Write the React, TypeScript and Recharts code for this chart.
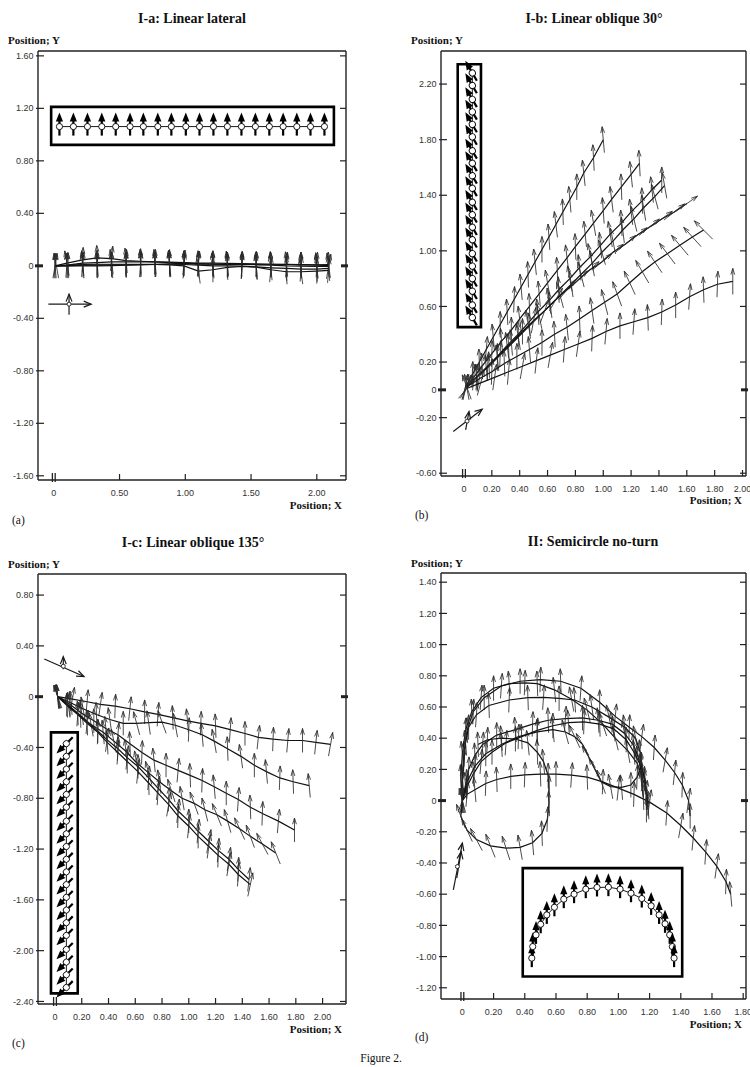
import React from 'react';
import { ScatterChart, Scatter, XAxis, YAxis, ReferenceArea } from 'recharts';

type Row = [number, number, number]; // x, y, heading (deg)
type Cue = { from: [number, number]; to: [number, number]; h: number };

// ---------- I-a: Linear lateral ----------
const A_X_TICKS = [0, 0.5, 1.0, 1.5, 2.0];
const A_Y_TICKS = [-1.6, -1.2, -0.8, -0.4, 0, 0.4, 0.8, 1.2, 1.6];
const A_TRACK_1: Row[] = [[0.01,0.0,95],[0.10,0.02,100],[0.22,0.045,88],[0.33,0.06,92],[0.44,0.055,85],[0.55,0.04,95],[0.66,0.035,90],[0.77,0.03,88],[0.88,0.025,93],[0.99,0.02,90],[1.10,0.015,87],[1.21,0.012,92],[1.32,0.01,90],[1.43,0.01,88],[1.54,0.008,93],[1.65,0.005,90],[1.77,0.0,88],[1.88,-0.002,92],[2.00,-0.005,95],[2.09,-0.005,80]];
const A_TRACK_2: Row[] = [[0.01,0.0,80],[0.10,0.005,85],[0.22,0.02,95],[0.33,0.025,90],[0.44,0.03,97],[0.55,0.03,88],[0.66,0.03,92],[0.77,0.03,95],[0.88,0.028,90],[0.99,0.025,85],[1.10,0.02,92],[1.21,0.02,90],[1.32,0.018,95],[1.43,0.017,88],[1.54,0.015,90],[1.65,0.012,92],[1.77,0.01,86],[1.88,0.008,90],[2.00,0.005,95],[2.09,0.002,98]];
const A_TRACK_3: Row[] = [[0.02,0.0,100],[0.11,0.005,92],[0.22,0.01,85],[0.33,0.012,95],[0.44,0.012,90],[0.55,0.012,88],[0.66,0.012,93],[0.77,0.01,90],[0.88,0.008,95],[0.99,0.0,86],[1.10,-0.04,98],[1.21,-0.03,90],[1.32,-0.012,92],[1.43,-0.005,88],[1.54,-0.01,95],[1.65,-0.03,85],[1.77,-0.045,92],[1.88,-0.045,98],[2.00,-0.04,90],[2.09,-0.035,85]];
const A_TRACK_4: Row[] = [[0.01,0.0,90],[0.10,0.0,95],[0.22,0.005,92],[0.33,0.005,88],[0.44,0.008,90],[0.55,0.008,92],[0.66,0.01,86],[0.77,0.012,94],[0.88,0.012,90],[0.99,0.01,88],[1.10,0.005,92],[1.21,0.0,95],[1.32,0.0,90],[1.43,-0.003,87],[1.54,-0.008,92],[1.65,-0.015,96],[1.77,-0.02,90],[1.88,-0.025,86],[2.00,-0.025,92],[2.09,-0.02,95]];
const A_TRACK_5: Row[] = [[0.01,0.0,85],[0.10,0.002,90],[0.22,0.0,96],[0.33,0.0,92],[0.44,0.002,95],[0.55,0.005,90],[0.66,0.008,88],[0.77,0.01,92],[0.88,0.015,96],[0.99,0.018,90],[1.10,0.015,85],[1.21,0.012,90],[1.32,0.01,93],[1.43,0.01,90],[1.54,0.01,88],[1.65,0.012,92],[1.77,0.012,95],[1.88,0.01,90],[2.00,0.008,87],[2.09,0.01,92]];
const A_MODEL: Row[] = [[0.043,1.061,90],[0.149,1.061,90],[0.256,1.061,90],[0.365,1.061,90],[0.471,1.061,90],[0.580,1.061,90],[0.681,1.061,90],[0.791,1.061,90],[0.894,1.061,90],[1.004,1.061,90],[1.108,1.061,90],[1.214,1.061,90],[1.320,1.061,90],[1.427,1.061,90],[1.533,1.061,90],[1.639,1.061,90],[1.744,1.061,90],[1.848,1.061,90],[1.952,1.061,90],[2.058,1.061,90]];
const A_MODEL_BOX = [-0.02, 2.13, 0.922, 1.211];
const A_CUES: Cue[] = [
  { from: [-0.041, -0.292], to: [0.284, -0.292], h: 0 },
  { from: [0.116, -0.373], to: [0.116, -0.216], h: 90 },
];
const A_CUE_DOT: [number, number] = [0.116, -0.292];

// ---------- I-b: Linear oblique 30° ----------
const B_X_TICKS = [0, 0.2, 0.4, 0.6, 0.8, 1.0, 1.2, 1.4, 1.6, 1.8, 2.0];
const B_Y_TICKS = [-0.6, -0.2, 0, 0.2, 0.6, 1.0, 1.4, 1.8, 2.2];
const B_TRACK_1: Row[] = [[0.01,0.02,80],[0.06,0.11,88],[0.11,0.20,92],[0.16,0.29,85],[0.21,0.38,95],[0.26,0.47,90],[0.31,0.56,93],[0.36,0.65,88],[0.41,0.74,95],[0.46,0.83,92],[0.51,0.92,96],[0.56,1.01,90],[0.61,1.10,94],[0.66,1.19,97],[0.71,1.28,92],[0.76,1.37,95],[0.81,1.46,90],[0.86,1.56,96],[0.93,1.67,93],[1.00,1.80,95]];
const B_TRACK_2: Row[] = [[0.01,0.02,75],[0.07,0.09,85],[0.13,0.17,92],[0.20,0.26,88],[0.27,0.35,95],[0.34,0.43,90],[0.40,0.51,97],[0.47,0.60,92],[0.54,0.69,95],[0.60,0.77,100],[0.67,0.86,93],[0.74,0.95,97],[0.80,1.03,92],[0.87,1.12,96],[0.93,1.20,100],[1.00,1.29,94],[1.06,1.37,97],[1.13,1.46,92],[1.20,1.55,96],[1.26,1.63,93]];
const B_TRACK_3: Row[] = [[0.02,0.02,70],[0.09,0.09,88],[0.16,0.16,95],[0.24,0.24,90],[0.31,0.32,97],[0.39,0.40,92],[0.46,0.48,100],[0.53,0.56,95],[0.61,0.64,98],[0.68,0.72,92],[0.76,0.80,100],[0.83,0.88,96],[0.91,0.96,102],[0.98,1.04,95],[1.05,1.12,99],[1.13,1.20,93],[1.20,1.28,97],[1.28,1.36,92],[1.35,1.44,96],[1.42,1.51,90]];
const B_TRACK_4: Row[] = [[0.02,0.02,110],[0.09,0.09,95],[0.17,0.16,88],[0.24,0.23,96],[0.32,0.31,92],[0.39,0.38,99],[0.47,0.46,94],[0.54,0.53,102],[0.62,0.61,97],[0.69,0.68,105],[0.77,0.76,98],[0.84,0.83,104],[0.92,0.91,100],[0.99,0.99,106],[1.07,1.07,101],[1.14,1.15,97],[1.22,1.23,103],[1.29,1.31,99],[1.37,1.39,105],[1.44,1.47,100]];
const B_TRACK_5: Row[] = [[0.02,0.02,60],[0.10,0.10,85],[0.18,0.18,92],[0.26,0.26,88],[0.34,0.34,95],[0.42,0.42,90],[0.50,0.50,80],[0.58,0.57,70],[0.66,0.65,60],[0.74,0.72,50],[0.82,0.79,45],[0.90,0.86,42],[0.99,0.92,40],[1.07,0.99,38],[1.16,1.05,40],[1.24,1.11,37],[1.33,1.17,39],[1.42,1.23,36],[1.51,1.28,38],[1.60,1.34,35]];
const B_TRACK_6: Row[] = [[0.02,0.02,100],[0.11,0.08,80],[0.20,0.13,88],[0.29,0.19,92],[0.38,0.24,90],[0.47,0.29,95],[0.56,0.34,90],[0.65,0.40,93],[0.74,0.45,96],[0.83,0.51,92],[0.92,0.57,98],[1.01,0.63,104],[1.10,0.69,110],[1.19,0.77,115],[1.28,0.85,120],[1.37,0.92,124],[1.46,0.98,127],[1.55,1.04,130],[1.64,1.10,132],[1.72,1.15,135]];
const B_TRACK_7: Row[] = [[0.02,0.01,50],[0.12,0.05,75],[0.22,0.09,82],[0.32,0.13,85],[0.42,0.17,80],[0.52,0.21,84],[0.62,0.25,80],[0.72,0.29,86],[0.82,0.33,82],[0.92,0.37,88],[1.02,0.42,85],[1.12,0.46,90],[1.22,0.49,86],[1.32,0.52,92],[1.42,0.56,88],[1.52,0.61,90],[1.62,0.67,86],[1.72,0.72,92],[1.82,0.76,88],[1.93,0.78,90]];
const B_MODEL: Row[] = [[0.06,2.28,120],[0.06,2.19,120],[0.06,2.09,120],[0.06,2.00,120],[0.06,1.91,120],[0.06,1.82,120],[0.06,1.72,120],[0.06,1.63,120],[0.06,1.54,120],[0.06,1.45,120],[0.06,1.35,120],[0.06,1.26,120],[0.06,1.17,120],[0.06,1.08,120],[0.06,0.98,120],[0.06,0.89,120],[0.06,0.80,120],[0.06,0.71,120],[0.06,0.61,120],[0.06,0.52,120]];
const B_MODEL_BOX = [-0.045, 0.122, 0.451, 2.343];
const B_CUES: Cue[] = [
  { from: [-0.077, -0.30], to: [0.131, -0.139], h: 38 },
  { from: [0.012, -0.288], to: [0.036, -0.156], h: 80 },
];
const B_CUE_DOT: [number, number] = [0.022, -0.225];

// ---------- I-c: Linear oblique 135° ----------
const C_X_TICKS = [0, 0.2, 0.4, 0.6, 0.8, 1.0, 1.2, 1.4, 1.6, 1.8, 2.0];
const C_Y_TICKS = [-2.4, -2.0, -1.6, -1.2, -0.8, -0.4, 0, 0.4, 0.8];
const C_TRACK_1: Row[] = [[0.02,0.00,95],[0.13,-0.02,80],[0.24,-0.04,85],[0.34,-0.06,82],[0.45,-0.075,88],[0.56,-0.095,84],[0.67,-0.12,90],[0.77,-0.14,86],[0.88,-0.165,92],[0.99,-0.19,95],[1.09,-0.21,88],[1.20,-0.23,92],[1.31,-0.26,86],[1.42,-0.29,90],[1.52,-0.32,84],[1.63,-0.335,88],[1.74,-0.345,85],[1.85,-0.345,90],[1.95,-0.36,84],[2.06,-0.375,80]];
const C_TRACK_2: Row[] = [[0.02,0.0,110],[0.12,-0.05,95],[0.21,-0.095,100],[0.31,-0.14,92],[0.41,-0.18,98],[0.51,-0.21,90],[0.61,-0.21,105],[0.70,-0.205,98],[0.80,-0.20,110],[0.90,-0.225,100],[1.00,-0.26,88],[1.10,-0.30,95],[1.19,-0.35,100],[1.29,-0.41,92],[1.39,-0.47,98],[1.49,-0.54,90],[1.58,-0.59,95],[1.68,-0.64,88],[1.78,-0.67,92],[1.90,-0.70,95]];
const C_TRACK_3: Row[] = [[0.02,0.0,100],[0.11,-0.06,92],[0.20,-0.13,98],[0.29,-0.19,90],[0.38,-0.25,95],[0.47,-0.30,85],[0.56,-0.37,92],[0.65,-0.44,88],[0.74,-0.50,96],[0.83,-0.54,90],[0.92,-0.58,85],[1.01,-0.62,92],[1.10,-0.66,88],[1.19,-0.71,95],[1.28,-0.76,90],[1.37,-0.81,86],[1.46,-0.87,92],[1.55,-0.92,88],[1.67,-0.98,85],[1.79,-1.05,90]];
const C_TRACK_4: Row[] = [[0.02,0.0,105],[0.10,-0.07,98],[0.19,-0.15,92],[0.27,-0.22,100],[0.36,-0.28,95],[0.44,-0.35,102],[0.53,-0.43,96],[0.61,-0.52,100],[0.70,-0.60,105],[0.78,-0.67,98],[0.87,-0.74,108],[0.95,-0.80,100],[1.04,-0.84,110],[1.12,-0.89,104],[1.21,-0.93,112],[1.29,-0.98,106],[1.38,-1.04,115],[1.46,-1.10,110],[1.55,-1.16,118],[1.65,-1.23,112]];
const C_TRACK_5: Row[] = [[0.02,0.0,95],[0.09,-0.06,88],[0.17,-0.13,92],[0.24,-0.20,85],[0.32,-0.27,90],[0.39,-0.34,82],[0.47,-0.41,88],[0.54,-0.48,84],[0.62,-0.55,90],[0.70,-0.64,86],[0.77,-0.72,82],[0.85,-0.81,88],[0.92,-0.90,84],[1.00,-0.98,90],[1.07,-1.06,85],[1.15,-1.14,80],[1.22,-1.21,86],[1.30,-1.28,82],[1.37,-1.36,88],[1.45,-1.44,84]];
const C_TRACK_6: Row[] = [[0.02,0.0,100],[0.09,-0.07,92],[0.17,-0.14,86],[0.24,-0.21,92],[0.32,-0.28,88],[0.39,-0.36,94],[0.47,-0.44,86],[0.54,-0.51,90],[0.62,-0.59,84],[0.70,-0.68,92],[0.77,-0.76,86],[0.85,-0.85,80],[0.92,-0.94,88],[1.00,-1.02,84],[1.07,-1.10,90],[1.15,-1.18,82],[1.22,-1.25,88],[1.30,-1.32,80],[1.37,-1.40,86],[1.46,-1.48,78]];
const C_MODEL: Row[] = [[0.085,-0.37,225],[0.085,-0.47,225],[0.085,-0.57,225],[0.085,-0.67,225],[0.085,-0.77,225],[0.085,-0.87,225],[0.085,-0.98,225],[0.085,-1.08,225],[0.085,-1.18,225],[0.085,-1.28,225],[0.085,-1.38,225],[0.085,-1.48,225],[0.085,-1.58,225],[0.085,-1.68,225],[0.085,-1.78,225],[0.085,-1.88,225],[0.085,-1.99,225],[0.085,-2.09,225],[0.085,-2.19,225],[0.085,-2.29,225]];
const C_MODEL_BOX = [-0.03, 0.17, -2.336, -0.281];
const C_CUES: Cue[] = [
  { from: [-0.08, 0.297], to: [0.217, 0.159], h: 336 },
  { from: [0.062, 0.215], to: [0.062, 0.315], h: 90 },
];
const C_CUE_DOT: [number, number] = [0.062, 0.24];

// ---------- II: Semicircle no-turn ----------
const D_X_TICKS = [0, 0.2, 0.4, 0.6, 0.8, 1.0, 1.2, 1.4, 1.6, 1.8];
const D_Y_TICKS = [-1.2, -1.0, -0.8, -0.6, -0.4, -0.2, 0, 0.2, 0.4, 0.6, 0.8, 1.0, 1.2, 1.4];
const D_TRACK_1: Row[] = [[0.0,0.0,70],[0.03,0.04,85],[0.08,0.07,95],[0.15,0.11,88],[0.22,0.135,92],[0.31,0.155,90],[0.40,0.165,88],[0.50,0.17,92],[0.60,0.17,90],[0.70,0.163,86],[0.80,0.15,92],[0.90,0.12,88],[1.00,0.08,84],[1.10,0.04,88],[1.20,-0.01,82],[1.31,-0.08,86],[1.40,-0.16,80],[1.48,-0.24,84],[1.56,-0.33,86],[1.63,-0.42,82],[1.69,-0.52,88],[1.72,-0.60,95]];
const D_TRACK_2: Row[] = [[0.0,0.0,100],[0.0,0.15,95],[0.01,0.30,90],[0.03,0.45,92],[0.07,0.57,88],[0.14,0.66,90],[0.25,0.735,86],[0.37,0.765,90],[0.50,0.775,88],[0.63,0.765,92],[0.76,0.72,86],[0.88,0.63,90],[0.98,0.54,84],[1.07,0.47,88],[1.15,0.41,82],[1.23,0.34,86],[1.30,0.26,80],[1.36,0.18,84],[1.41,0.10,88],[1.45,0.0,82],[1.46,-0.10,90]];
const D_TRACK_3: Row[] = [[0.0,0.0,95],[-0.01,0.15,92],[0.0,0.30,96],[0.02,0.45,88],[0.06,0.57,92],[0.12,0.66,86],[0.20,0.72,90],[0.30,0.75,94],[0.40,0.755,88],[0.48,0.75,92],[0.59,0.71,96],[0.70,0.65,100],[0.80,0.58,104],[0.90,0.49,108],[0.98,0.40,104],[1.06,0.32,100],[1.12,0.24,96],[1.15,0.16,92],[1.18,0.06,98],[1.19,-0.04,94]];
const D_TRACK_4: Row[] = [[0.0,0.0,85],[0.0,0.12,92],[0.01,0.25,88],[0.02,0.37,95],[0.04,0.47,90],[0.09,0.55,86],[0.17,0.61,92],[0.30,0.645,88],[0.42,0.66,92],[0.52,0.662,86],[0.62,0.655,90],[0.72,0.645,94],[0.83,0.60,98],[0.94,0.535,102],[1.04,0.47,96],[1.11,0.40,100],[1.14,0.31,94],[1.15,0.22,98],[1.17,0.12,92],[1.18,0.02,96],[1.18,-0.06,90]];
const D_TRACK_5: Row[] = [[0.0,0.0,90],[0.02,0.10,95],[0.04,0.20,88],[0.08,0.29,92],[0.13,0.36,86],[0.22,0.42,90],[0.34,0.455,94],[0.45,0.49,88],[0.55,0.515,92],[0.66,0.525,86],[0.77,0.53,90],[0.87,0.515,94],[0.96,0.49,98],[1.04,0.43,102],[1.10,0.35,96],[1.13,0.27,100],[1.15,0.18,94],[1.15,0.10,98],[1.16,0.02,92]];
const D_TRACK_6: Row[] = [[0.0,0.0,80],[0.03,0.09,88],[0.07,0.17,92],[0.12,0.25,85],[0.19,0.31,90],[0.28,0.37,86],[0.38,0.41,92],[0.48,0.45,88],[0.58,0.48,90],[0.68,0.50,94],[0.78,0.505,88],[0.88,0.49,92],[0.97,0.46,96],[1.05,0.39,90],[1.10,0.31,94],[1.14,0.23,88],[1.17,0.14,92],[1.18,0.05,86],[1.19,-0.02,90]];
const D_TRACK_7: Row[] = [[0.0,0.0,105],[-0.01,-0.10,110],[0.03,-0.19,115],[0.09,-0.25,118],[0.18,-0.29,112],[0.28,-0.305,108],[0.37,-0.30,100],[0.45,-0.27,95],[0.51,-0.21,92],[0.545,-0.12,88],[0.555,-0.02,92],[0.555,0.08,88],[0.55,0.16,90],[0.52,0.25,95],[0.48,0.31,92],[0.42,0.37,96],[0.34,0.395,90],[0.25,0.40,94],[0.16,0.39,88],[0.10,0.36,92]];
const D_TRACK_8: Row[] = [[0.0,0.0,88],[0.03,0.12,92],[0.08,0.22,86],[0.15,0.30,90],[0.25,0.36,94],[0.36,0.41,88],[0.48,0.44,92],[0.58,0.455,96],[0.66,0.44,105],[0.72,0.41,115],[0.77,0.36,120],[0.81,0.28,122],[0.85,0.20,118],[0.89,0.12,110],[0.95,0.09,100],[1.02,0.085,95],[1.08,0.10,90],[1.12,0.15,88],[1.15,0.23,92]];
const D_MODEL: Row[] = [[0.445,-1.010,90],[0.451,-0.936,90],[0.472,-0.861,90],[0.502,-0.793,90],[0.541,-0.733,90],[0.590,-0.684,90],[0.650,-0.632,90],[0.716,-0.600,90],[0.791,-0.568,90],[0.863,-0.557,90],[0.936,-0.555,90],[1.011,-0.568,90],[1.081,-0.594,90],[1.150,-0.628,90],[1.210,-0.675,90],[1.261,-0.733,90],[1.299,-0.790,90],[1.329,-0.861,90],[1.346,-0.936,90],[1.357,-1.010,90]];
const D_MODEL_BOX = [0.387, 1.409, -1.128, -0.433];
const D_CUES: Cue[] = [
  { from: [-0.058, -0.572], to: [0.0, -0.273], h: 79 },
  { from: [-0.036, -0.497], to: [-0.008, -0.327], h: 81 },
];
const D_CUE_DOT: [number, number] = [-0.032, -0.423];

// ---------- drawing helpers ----------
const INK = '#1a1a1a';
const AXIS_LINE = { stroke: '#222', strokeWidth: 1.4 };
const TRACK_LINE = { stroke: '#111', strokeWidth: 1.2 };
const MODEL_LINE = { stroke: '#000', strokeWidth: 0.9 };
const TICK_FONT = "'Liberation Sans', Arial, sans-serif";
const SERIF = "'Liberation Serif', 'Times New Roman', serif";

const pts = (rows: Row[]) => rows.map(([x, y, h]) => ({ x, y, h }));
const cueData = (c: Cue) => [
  { x: c.from[0], y: c.from[1], h: null },
  { x: c.to[0], y: c.to[1], h: c.h },
];
const fmt = (v: number) => (v === 0 ? '0' : v.toFixed(2));

function headPath(hx: number, hy: number, a: number, hl: number, sp: number) {
  const bx = -Math.cos(a);
  const by = Math.sin(a);
  const r = (t: number) => [hx + hl * (bx * Math.cos(t) - by * Math.sin(t)), hy + hl * (bx * Math.sin(t) + by * Math.cos(t))];
  const [l1x, l1y] = r(sp);
  const [l2x, l2y] = r(-sp);
  return `M${l1x},${l1y}L${hx},${hy}L${l2x},${l2y}`;
}

// thin open arrow centred on a trajectory sample, pointing along the heading
const quiver = (len: number) => (p: any) => {
  const { cx, cy, payload } = p;
  if (cx == null || cy == null || payload == null) return <g />;
  const a = (payload.h * Math.PI) / 180;
  const ux = Math.cos(a);
  const uy = -Math.sin(a);
  const tx = cx - (ux * len) / 2;
  const ty = cy - (uy * len) / 2;
  const hx = cx + (ux * len) / 2;
  const hy = cy + (uy * len) / 2;
  return (
    <path
      d={`M${tx},${ty}L${hx},${hy}` + headPath(hx, hy, a, 6.5, 0.3)}
      stroke="#2c2c2c"
      strokeWidth={0.85}
      fill="none"
    />
  );
};

// filled agent glyph used in the model boxes
const modelGlyph = (p: any) => {
  const { cx, cy, payload } = p;
  if (cx == null || cy == null || payload == null) return <g />;
  const rot = 90 - payload.h;
  return (
    <g transform={`rotate(${rot} ${cx} ${cy})`}>
      <line x1={cx} y1={cy + 9} x2={cx} y2={cy - 7} stroke="#000" strokeWidth={2.2} />
      <path d={`M${cx},${cy - 14}L${cx - 3.6},${cy - 5}L${cx + 3.6},${cy - 5}Z`} fill="#000" />
      <circle cx={cx} cy={cy} r={3.1} fill="#fff" stroke="#000" strokeWidth={0.9} />
    </g>
  );
};

// cue arrow: head only on the end sample
const cueHead = (p: any) => {
  const { cx, cy, payload } = p;
  if (cx == null || cy == null || payload == null || payload.h == null) return <g />;
  const a = (payload.h * Math.PI) / 180;
  return <path d={headPath(cx, cy, a, 8, 0.38)} stroke={INK} strokeWidth={1.2} fill="none" />;
};
const cueDot = (p: any) => {
  const { cx, cy } = p;
  if (cx == null || cy == null) return <g />;
  return <circle cx={cx} cy={cy} r={2} fill="#fff" stroke={INK} strokeWidth={0.9} />;
};

// ---------- axis ticks (all drawn inside the frame) ----------
const LeftTick = (p: any) => {
  const { x, y, payload } = p;
  const zero = payload.value === 0;
  return (
    <g>
      <line x1={zero ? x - 3 : x - 2} x2={zero ? x + 5 : x + 6} y1={y} y2={y} stroke="#222" strokeWidth={zero ? 3 : 1.2} />
      <text x={x - 4.5} y={y} dy="0.35em" textAnchor="end" fontSize={9} fill="#333" fontFamily={TICK_FONT}>
        {fmt(payload.value)}
      </text>
    </g>
  );
};
const RightTick = (p: any) => {
  const { x, y, payload } = p;
  const zero = payload.value === 0;
  return <line x1={zero ? x - 5 : x - 6} x2={zero ? x + 2 : x} y1={y} y2={y} stroke="#222" strokeWidth={zero ? 3 : 1.2} />;
};
const TopTick = (p: any) => {
  const { x, y, payload } = p;
  if (payload.value === 0) {
    return (
      <g stroke="#222" strokeWidth={1.3}>
        <line x1={x - 1.4} x2={x - 1.4} y1={y - 2} y2={y + 7} />
        <line x1={x + 1.4} x2={x + 1.4} y1={y - 2} y2={y + 7} />
      </g>
    );
  }
  return <line x1={x} x2={x} y1={y} y2={y + 6} stroke="#222" strokeWidth={1.2} />;
};
const BottomTick = (p: any) => {
  const { x, y, payload } = p;
  const zero = payload.value === 0;
  return (
    <g>
      {zero ? (
        <g stroke="#222" strokeWidth={1.3}>
          <line x1={x - 1.4} x2={x - 1.4} y1={y + 2} y2={y - 7} />
          <line x1={x + 1.4} x2={x + 1.4} y1={y + 2} y2={y - 7} />
        </g>
      ) : (
        <line x1={x} x2={x} y1={y} y2={y - 6} stroke="#222" strokeWidth={1.2} />
      )}
      <text x={x} y={y + 12.5} dy="0.35em" textAnchor="middle" fontSize={9} fill="#333" fontFamily={TICK_FONT}>
        {fmt(payload.value)}
      </text>
    </g>
  );
};

function frame(xd: number[], yd: number[], xt: number[], yt: number[], yw: number) {
  return [
    <XAxis key="xb" type="number" dataKey="x" domain={xd} ticks={xt} allowDataOverflow interval={0} height={20} tickLine={false} tickSize={0} tickMargin={0} axisLine={AXIS_LINE} tick={BottomTick} />,
    <XAxis key="xt" xAxisId="top" orientation="top" type="number" domain={xd} ticks={xt} allowDataOverflow interval={0} height={1} tickLine={false} tickSize={0} tickMargin={0} axisLine={AXIS_LINE} tick={TopTick} />,
    <YAxis key="yl" type="number" dataKey="y" domain={yd} ticks={yt} allowDataOverflow interval={0} width={yw} tickLine={false} tickSize={0} tickMargin={0} axisLine={AXIS_LINE} tick={LeftTick} />,
    <YAxis key="yr" yAxisId="right" orientation="right" type="number" domain={yd} ticks={yt} allowDataOverflow interval={0} width={1} tickLine={false} tickSize={0} tickMargin={0} axisLine={AXIS_LINE} tick={RightTick} />,
    <Scatter key="anchor" xAxisId="top" yAxisId="right" data={[]} isAnimationActive={false} />,
  ];
}

function tracks(list: Row[][], len: number) {
  return list.map((t, i) => (
    <Scatter key={`t${i}`} data={pts(t)} line={TRACK_LINE} lineJointType="linear" shape={quiver(len)} isAnimationActive={false} />
  ));
}

function model(rows: Row[], box: number[]) {
  return [
    <ReferenceArea key="box" x1={box[0]} x2={box[1]} y1={box[2]} y2={box[3]} fill="none" stroke="#000" strokeWidth={2.6} ifOverflow="visible" />,
    <Scatter key="model" data={pts(rows)} line={MODEL_LINE} lineJointType="linear" shape={modelGlyph} isAnimationActive={false} />,
  ];
}

function cues(list: Cue[], dot: [number, number]) {
  return [
    ...list.map((c, i) => (
      <Scatter key={`c${i}`} data={cueData(c)} line={{ stroke: INK, strokeWidth: 1.2 }} lineJointType="linear" shape={cueHead} isAnimationActive={false} />
    )),
    <Scatter key="cdot" data={[{ x: dot[0], y: dot[1] }]} shape={cueDot} isAnimationActive={false} />,
  ];
}

const Txt = ({ x, y, anchor = 'start', style, children }: any) => (
  <div
    style={{
      position: 'absolute',
      left: x,
      top: y,
      transform: `translate(${anchor === 'middle' ? '-50%' : anchor === 'end' ? '-100%' : '0'}, -50%)`,
      whiteSpace: 'nowrap',
      lineHeight: 1,
      color: '#111',
      fontFamily: SERIF,
      ...style,
    }}
  >
    {children}
  </div>
);

const TITLE = { fontSize: 14, fontWeight: 700 };
const AXT = { fontSize: 11, fontWeight: 700 };
const TAG = { fontSize: 11.5 };

export default function App() {
  return (
    <div style={{ position: 'absolute', left: 0, top: 0, width: 750, height: 1067, background: '#fff', overflow: 'hidden' }}>
      {/* I-a */}
      <div style={{ position: 'absolute', left: 0, top: 0 }}>
        <ScatterChart width={375} height={530} margin={{ top: 50, right: 28, bottom: 30, left: 0 }}>
          {frame([-0.12, 2.222], [-1.632, 1.637], A_X_TICKS, A_Y_TICKS, 38)}
          {model(A_MODEL, A_MODEL_BOX)}
          {tracks([A_TRACK_1, A_TRACK_2, A_TRACK_3, A_TRACK_4, A_TRACK_5], 25)}
          {cues(A_CUES, A_CUE_DOT)}
        </ScatterChart>
      </div>
      {/* I-b */}
      <div style={{ position: 'absolute', left: 375, top: 0 }}>
        <ScatterChart width={375} height={530} margin={{ top: 50, right: 3, bottom: 34, left: 0 }}>
          {frame([-0.165, 2.025], [-0.62, 2.438], B_X_TICKS, B_Y_TICKS, 66)}
          {model(B_MODEL, B_MODEL_BOX)}
          {tracks([B_TRACK_1, B_TRACK_2, B_TRACK_3, B_TRACK_4, B_TRACK_5, B_TRACK_6, B_TRACK_7], 26)}
          {cues(B_CUES, B_CUE_DOT)}
        </ScatterChart>
      </div>
      {/* I-c */}
      <div style={{ position: 'absolute', left: 0, top: 530 }}>
        <ScatterChart width={375} height={530} margin={{ top: 43, right: 28, bottom: 36, left: 0 }}>
          {frame([-0.127, 2.175], [-2.42, 0.966], C_X_TICKS, C_Y_TICKS, 38)}
          {model(C_MODEL, C_MODEL_BOX)}
          {tracks([C_TRACK_1, C_TRACK_2, C_TRACK_3, C_TRACK_4, C_TRACK_5, C_TRACK_6], 24)}
          {cues(C_CUES, C_CUE_DOT)}
        </ScatterChart>
      </div>
      {/* II */}
      <div style={{ position: 'absolute', left: 375, top: 530 }}>
        <ScatterChart width={375} height={530} margin={{ top: 42, right: 3, bottom: 41, left: 0 }}>
          {frame([-0.137, 1.818], [-1.272, 1.459], D_X_TICKS, D_Y_TICKS, 66)}
          {model(D_MODEL, D_MODEL_BOX)}
          {tracks([D_TRACK_1, D_TRACK_2, D_TRACK_3, D_TRACK_4, D_TRACK_5, D_TRACK_6, D_TRACK_7, D_TRACK_8], 25)}
          {cues(D_CUES, D_CUE_DOT)}
        </ScatterChart>
      </div>

      <Txt x={192} y={19} anchor="middle" style={TITLE}>I-a: Linear lateral</Txt>
      <Txt x={594} y={19} anchor="middle" style={TITLE}>I-b: Linear oblique 30°</Txt>
      <Txt x={193} y={543} anchor="middle" style={TITLE}>I-c: Linear oblique 135°</Txt>
      <Txt x={593} y={542} anchor="middle" style={TITLE}>II: Semicircle no-turn</Txt>

      <Txt x={8} y={40} style={AXT}>Position; Y</Txt>
      <Txt x={411} y={40} style={AXT}>Position; Y</Txt>
      <Txt x={8} y={564} style={AXT}>Position; Y</Txt>
      <Txt x={411} y={563} style={AXT}>Position; Y</Txt>

      <Txt x={342} y={505} anchor="end" style={AXT}>Position; X</Txt>
      <Txt x={742} y={500} anchor="end" style={AXT}>Position; X</Txt>
      <Txt x={342} y={1029} anchor="end" style={AXT}>Position; X</Txt>
      <Txt x={742} y={1024} anchor="end" style={AXT}>Position; X</Txt>

      <Txt x={12} y={521} style={TAG}>(a)</Txt>
      <Txt x={415} y={516} style={TAG}>(b)</Txt>
      <Txt x={12} y={1044} style={TAG}>(c)</Txt>
      <Txt x={415} y={1038} style={TAG}>(d)</Txt>
      <Txt x={381} y={1059} anchor="middle" style={TAG}>Figure 2.</Txt>
    </div>
  );
}
